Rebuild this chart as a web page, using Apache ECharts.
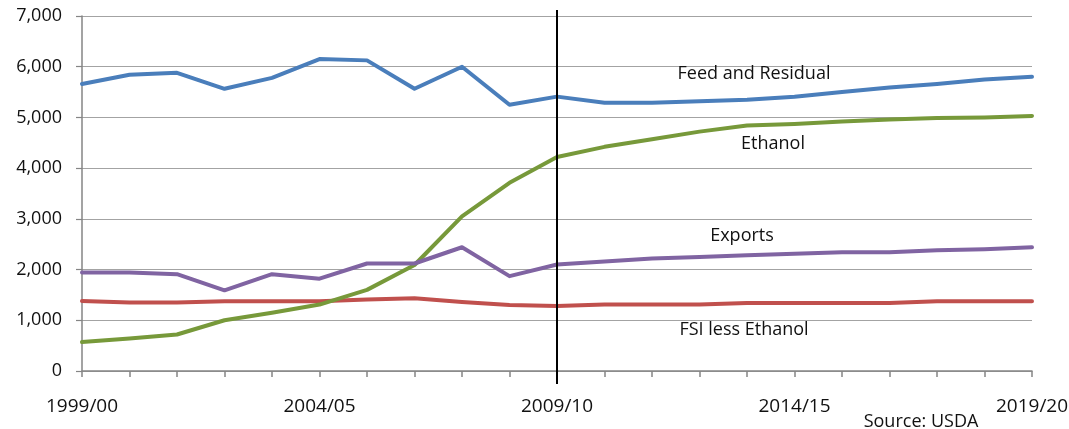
<!DOCTYPE html>
<html>
<head>
<meta charset="utf-8">
<script src="https://cdn.jsdelivr.net/npm/echarts@6/dist/echarts.min.js"></script>
<style>
  html, body { margin: 0; padding: 0; background: #ffffff; }
  #chart { width: 1069px; height: 429px; }
</style>
</head>
<body>
<div id="chart"></div>
<script>
// Marketing years 1999/00 .. 2019/20
const years = [
  '1999/00','2000/01','2001/02','2002/03','2003/04','2004/05','2005/06',
  '2006/07','2007/08','2008/09','2009/10','2010/11','2011/12','2012/13',
  '2013/14','2014/15','2015/16','2016/17','2017/18','2018/19','2019/20'
];

// Corn use by category (million bushels)
const feedResidual = [5660, 5840, 5880, 5565, 5780, 6150, 6125, 5565, 6000, 5250, 5410,
                      5290, 5290, 5320, 5350, 5410, 5500, 5590, 5660, 5750, 5800];
const ethanol      = [570, 640, 720, 1000, 1150, 1310, 1600, 2090, 3050, 3710, 4220,
                      4420, 4570, 4720, 4840, 4870, 4920, 4960, 4990, 5000, 5030];
const exportsUse   = [1940, 1940, 1910, 1590, 1910, 1820, 2120, 2120, 2440, 1870, 2100,
                      2160, 2220, 2250, 2280, 2310, 2340, 2340, 2380, 2400, 2440];
const fsiLessEth   = [1380, 1350, 1350, 1375, 1375, 1375, 1410, 1435, 1360, 1300, 1280,
                      1310, 1310, 1310, 1340, 1340, 1340, 1340, 1375, 1375, 1375];

// Year separating history from projections
const splitYear = '2009/10';

const FONT = '"Open Sans", "Noto Sans", sans-serif';
const AXIS_GRAY = '#858585';
const chart = echarts.init(document.getElementById('chart'), null, { renderer: 'canvas' });

function lineSeries(name, data, color) {
  return {
    name: name,
    type: 'line',
    data: data,
    symbol: 'none',
    smooth: false,
    lineStyle: { color: color, width: 4, cap: 'round', join: 'round' },
    itemStyle: { color: color },
    z: 3
  };
}

const option = {
  backgroundColor: '#ffffff',
  animation: false,
  grid: { left: 82, right: 37, top: 16, bottom: 58, containLabel: false, outerBoundsMode: 'none' },
  xAxis: {
    type: 'category',
    data: years,
    boundaryGap: false,
    axisLine: { show: true, onZero: false, lineStyle: { color: AXIS_GRAY, width: 1.5 } },
    axisTick: { show: true, interval: 0, length: 6, inside: false, lineStyle: { color: AXIS_GRAY, width: 1.5 } },
    axisLabel: {
      interval: 4, margin: 26, color: '#111', fontFamily: FONT, fontSize: 19,
      showMinLabel: true, showMaxLabel: true
    },
    splitLine: { show: false }
  },
  yAxis: {
    type: 'value',
    min: 0, max: 7000, interval: 1000,
    axisLine: { show: true, lineStyle: { color: AXIS_GRAY, width: 1.5 } },
    axisTick: { show: true, length: 6, lineStyle: { color: AXIS_GRAY, width: 1.2 } },
    axisLabel: {
      margin: 20, color: '#111', fontFamily: FONT, fontSize: 18,
      formatter: v => v.toLocaleString('en-US')
    },
    splitLine: { show: true, lineStyle: { color: '#a3a3a3', width: 1.2 } }
  },
  series: [
    lineSeries('Feed and Residual', feedResidual, '#4a7ebb'),
    lineSeries('FSI less Ethanol', fsiLessEth, '#c0504d'),
    lineSeries('Ethanol', ethanol, '#77993a'),
    lineSeries('Exports', exportsUse, '#8064a2')
  ]
};
chart.setOption(option);

// Series captions, a split line at 2009/10 and the source note
const lbl = (text, cx, cy) => ({
  type: 'text', x: cx, y: cy,
  style: { text: text, fill: '#111', font: '18px ' + FONT, align: 'center', verticalAlign: 'middle' },
  z: 10
});
const splitX = chart.convertToPixel({ xAxisIndex: 0 }, splitYear);
const topY = chart.convertToPixel({ yAxisIndex: 0 }, 7000);
const baseY = chart.convertToPixel({ yAxisIndex: 0 }, 0);
chart.setOption({
  graphic: [
    {
      type: 'line',
      shape: { x1: splitX, y1: topY - 6, x2: splitX, y2: baseY + 13 },
      style: { stroke: '#000', lineWidth: 2 },
      z: 20
    },
    lbl('Feed and Residual', 754, 74),
    lbl('Ethanol', 773, 144),
    lbl('Exports', 742, 236),
    lbl('FSI less Ethanol', 744, 330),
    lbl('Source: USDA', 921, 422)
  ]
});
</script>
</body>
</html>
